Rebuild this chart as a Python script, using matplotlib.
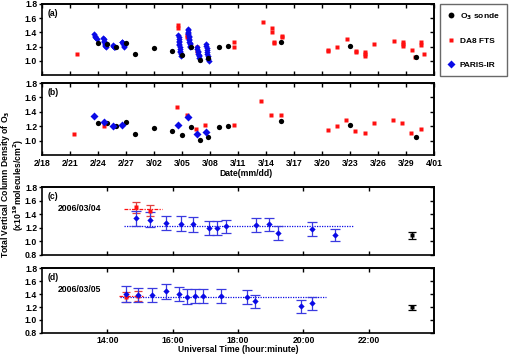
import matplotlib
matplotlib.use("Agg")
import matplotlib.pyplot as plt
from matplotlib.lines import Line2D

plt.rcParams['font.family'] = ['Liberation Sans', 'DejaVu Sans']
plt.rcParams['font.weight'] = 'bold'
plt.rcParams['axes.labelweight'] = 'bold'
plt.rcParams['font.size'] = 6.2
plt.rcParams['mathtext.default'] = 'bf'

# ---- panel (a): individual measurements (days since 2/18 00:00) ----
a_sonde_day = [5.96, 7.0, 7.93, 8.97, 9.97, 11.97, 13.97, 14.97, 15.97, 16.97,
               17.82, 18.97, 19.96, 25.57, 33.0, 40.05]
a_sonde_val = [1.25, 1.23, 1.19, 1.25, 1.09, 1.18, 1.14, 1.08, 1.19, 1.01,
               1.04, 1.19, 1.21, 1.27, 1.21, 1.05]

a_fts_day = [3.7, 14.6, 14.6, 15.55, 15.55, 16.6, 16.6, 20.6, 20.6, 23.7, 24.6,
             24.6, 24.8, 24.8, 25.7, 25.7, 30.6, 30.6, 31.6, 32.65, 33.6, 33.6,
             34.6, 34.6, 34.6, 35.6, 37.65, 38.65, 38.65, 38.65, 39.6, 39.9,
             40.6, 40.6, 40.9]
a_fts_val = [1.09, 1.50, 1.46, 1.36, 1.34, 1.19, 1.14, 1.27, 1.19, 1.54, 1.46,
             1.40, 1.26, 1.25, 1.35, 1.33, 1.15, 1.14, 1.19, 1.30, 1.14, 1.12,
             1.12, 1.09, 1.07, 1.24, 1.28, 1.27, 1.24, 1.21, 1.15, 1.05,
             1.26, 1.22, 1.09]

a_paris_day = [5.60, 5.66, 5.72, 5.78, 5.84,
               6.55, 6.59, 6.63, 6.67, 6.71, 6.75, 6.79, 6.83,
               7.57, 7.63, 7.69, 7.75, 7.81,
               8.55, 8.60, 8.65, 8.70, 8.75, 8.80,
               14.60, 14.62, 14.64, 14.66, 14.68, 14.70, 14.72, 14.74, 14.76,
               14.78, 14.80, 14.83, 14.86,
               15.60, 15.62, 15.64, 15.66, 15.68, 15.70, 15.72, 15.74, 15.76,
               15.78, 15.80, 15.82, 15.85, 15.88,
               16.60, 16.64, 16.67, 16.70, 16.73, 16.76, 16.80, 16.84,
               17.55, 17.59, 17.62, 17.65, 17.68, 17.71, 17.75, 17.80, 17.85]
a_paris_val = [1.37, 1.35, 1.33, 1.32, 1.31,
               1.32, 1.30, 1.28, 1.26, 1.24, 1.22, 1.21, 1.19,
               1.22, 1.21, 1.20, 1.19, 1.20,
               1.26, 1.27, 1.25, 1.23, 1.21, 1.20,
               1.36, 1.33, 1.30, 1.28, 1.26, 1.24, 1.22, 1.19, 1.17,
               1.14, 1.12, 1.09, 1.07,
               1.45, 1.43, 1.41, 1.39, 1.37, 1.35, 1.33, 1.31, 1.29,
               1.27, 1.25, 1.23, 1.21, 1.19,
               1.19, 1.16, 1.14, 1.12, 1.10, 1.08, 1.06, 1.04,
               1.24, 1.21, 1.18, 1.15, 1.12, 1.09, 1.06, 1.03, 1.00]

# ---- panel (b): daily means ----
b_sonde_day = a_sonde_day
b_sonde_val = [1.25, 1.24, 1.20, 1.26, 1.10, 1.17, 1.14, 1.08, 1.19, 1.01,
               1.05, 1.19, 1.21, 1.28, 1.22, 1.05]
b_fts_day = [3.45, 6.6, 14.5, 15.5, 16.5, 17.5, 20.6, 23.5, 24.5, 25.55, 30.6,
             31.6, 32.6, 33.55, 34.55, 35.6, 37.6, 38.6, 39.55, 40.6]
b_fts_val = [1.10, 1.20, 1.47, 1.35, 1.16, 1.22, 1.22, 1.55, 1.35, 1.35, 1.15,
             1.20, 1.29, 1.13, 1.11, 1.24, 1.29, 1.25, 1.11, 1.16]
b_paris_day = [5.6, 6.6, 7.6, 8.6, 14.6, 15.6, 16.6, 17.6]
b_paris_val = [1.34, 1.26, 1.21, 1.22, 1.22, 1.33, 1.10, 1.12]

date_ticks = list(range(0, 43, 3))
date_labels = ['2/18', '2/21', '2/24', '2/27', '3/02', '3/05', '3/08', '3/11',
               '3/14', '3/17', '3/20', '3/23', '3/26', '3/29', '4/01']

# ---- panel (c): 2006/03/04, UT hours ----
c_paris_t = [14.88, 15.31, 15.80, 16.25, 16.62, 17.10, 17.36, 17.62, 18.56,
             18.94, 19.23, 20.25, 20.97]
c_paris_v = [1.34, 1.32, 1.27, 1.26, 1.25, 1.20, 1.20, 1.22, 1.24, 1.25,
             1.12, 1.18, 1.09]
c_paris_e = [0.11, 0.11, 0.11, 0.11, 0.11, 0.10, 0.10, 0.10, 0.10, 0.10,
             0.10, 0.10, 0.09]
c_fts_t = [14.88, 15.31]
c_fts_v = [1.50, 1.45]
c_fts_e = [0.08, 0.08]
c_sonde_t = [23.32]
c_sonde_v = [1.09]
c_sonde_e = [0.05]
c_paris_mean, c_paris_span = 1.23, [14.5, 21.5]
c_fts_mean, c_fts_span = 1.475, [14.5, 15.67]

# ---- panel (d): 2006/03/05 ----
d_paris_t = [14.58, 14.95, 15.37, 15.79, 16.20, 16.45, 16.69, 16.93, 17.48,
             18.28, 18.53, 19.91, 20.27]
d_paris_v = [1.40, 1.39, 1.39, 1.44, 1.40, 1.36, 1.37, 1.37, 1.37, 1.35,
             1.29, 1.21, 1.26]
d_paris_e = [0.12, 0.11, 0.11, 0.11, 0.11, 0.11, 0.11, 0.11, 0.11, 0.11,
             0.10, 0.10, 0.10]
d_fts_t = [14.58, 14.95]
d_fts_v = [1.35, 1.37]
d_fts_e = [0.08, 0.08]
d_sonde_t = [23.32]
d_sonde_v = [1.195]
d_sonde_e = [0.04]
d_paris_mean, d_paris_span = 1.35, [14.39, 20.68]
d_fts_mean, d_fts_span = 1.365, [14.34, 15.1]

hour_ticks = [14, 16, 18, 20, 22]
hour_labels = ['14:00', '16:00', '18:00', '20:00', '22:00']

BLUE = '#0a0ae6'
EBLUE = '#3a3ae0'
RED = '#ff1010'


def style_axes(ax, xticks, yticks):
    for s in ax.spines.values():
        s.set_linewidth(1.2)
    ax.set_yticks(yticks)
    ax.set_yticklabels([f'{v:.1f}' for v in yticks])
    ax.set_xticks(xticks)
    ax.tick_params(axis='y', direction='out', length=2.5, width=1, pad=1)
    ax.tick_params(axis='x', direction='in', length=3, width=1, pad=2.5)
    top = ax.secondary_xaxis('top')
    top.set_xticks(xticks)
    top.tick_params(direction='in', length=3, width=1, labeltop=False)
    top.spines['top'].set_linewidth(1.2)
    right = ax.secondary_yaxis('right')
    right.set_yticks(yticks)
    right.tick_params(direction='in', length=3, width=1, labelright=False)
    right.spines['right'].set_linewidth(1.2)


fig = plt.figure(figsize=(5.10, 3.55), dpi=100)
L, W = 0.0824, 0.769
ax_a = fig.add_axes([L, 0.789, W, 0.2])
ax_b = fig.add_axes([L, 0.563, W, 0.203])
ax_c = fig.add_axes([L, 0.282, W, 0.191])
ax_d = fig.add_axes([L, 0.062, W, 0.183])

# panel a
ax_a.plot(a_fts_day, a_fts_val, 's', color=RED, ms=3, mec='none')
ax_a.plot(a_paris_day, a_paris_val, 'D', color=BLUE, ms=3.2, mec='none')
ax_a.plot(a_sonde_day, a_sonde_val, 'o', color='black', ms=3.8, mec='none')
ax_a.set_xlim(0, 42)
ax_a.set_ylim(0.8, 1.8)
style_axes(ax_a, date_ticks, [1.0, 1.2, 1.4, 1.6, 1.8])
ax_a.set_xticklabels([])
ax_a.text(0.015, 0.93, '(a)', transform=ax_a.transAxes, va='top')

# panel b
ax_b.plot(b_sonde_day, b_sonde_val, 'o', color='black', ms=3.8, mec='none')
ax_b.plot(b_fts_day, b_fts_val, 's', color=RED, ms=3, mec='none')
ax_b.plot(b_paris_day, b_paris_val, 'D', color=BLUE, ms=3.6, mec='none')
ax_b.set_xlim(0, 42)
ax_b.set_ylim(0.8, 1.8)
style_axes(ax_b, date_ticks, [1.0, 1.2, 1.4, 1.6, 1.8])
ax_b.set_xticklabels(date_labels)
ax_b.set_xlabel('Date(mm/dd)')
ax_b.xaxis.set_label_coords(0.52, -0.19)
ax_b.text(0.015, 0.93, '(b)', transform=ax_b.transAxes, va='top')


def day_panel(ax, pt, pv, pe, ft, fv, fe, st, sv, se, pm, pspan, fm, fspan):
    ax.plot(pspan, [pm, pm], color=BLUE, lw=0.9, ls=(0, (1, 1)))
    ax.plot(fspan, [fm, fm], color=RED, lw=0.9, ls=(0, (3, 1, 1, 1)))
    ax.errorbar(ft, fv, yerr=fe, fmt='s', color=RED, ecolor='#e04040', ms=3,
                mec='none', capsize=3, elinewidth=0.9, capthick=0.9)
    ax.errorbar(pt, pv, yerr=pe, fmt='D', color=BLUE, ecolor=EBLUE, ms=3.2,
                mec='none', capsize=3.5, elinewidth=0.9, capthick=0.9)
    ax.errorbar(st, sv, yerr=se, fmt='s', color='black', ms=3, mec='none',
                capsize=3, elinewidth=0.9, capthick=0.9)
    ax.set_xlim(12, 24)
    ax.set_ylim(0.8, 1.8)
    style_axes(ax, hour_ticks, [0.8, 1.0, 1.2, 1.4, 1.6, 1.8])


day_panel(ax_c, c_paris_t, c_paris_v, c_paris_e, c_fts_t, c_fts_v, c_fts_e,
          c_sonde_t, c_sonde_v, c_sonde_e, c_paris_mean, c_paris_span,
          c_fts_mean, c_fts_span)
ax_c.set_xticklabels([])
ax_c.text(0.015, 0.93, '(c)', transform=ax_c.transAxes, va='top')
ax_c.text(0.04, 0.69, '2006/03/04', transform=ax_c.transAxes, va='center')

day_panel(ax_d, d_paris_t, d_paris_v, d_paris_e, d_fts_t, d_fts_v, d_fts_e,
          d_sonde_t, d_sonde_v, d_sonde_e, d_paris_mean, d_paris_span,
          d_fts_mean, d_fts_span)
ax_d.set_xticklabels(hour_labels)
ax_d.set_xlabel('Universal Time (hour:minute)')
ax_d.xaxis.set_label_coords(0.5, -0.19)
ax_d.text(0.015, 0.93, '(d)', transform=ax_d.transAxes, va='top')
ax_d.text(0.04, 0.67, '2006/03/05', transform=ax_d.transAxes, va='center')

# y label shared
fig.text(0.011, 0.48, 'Total Vertical Column Density of O$_3$', rotation=90,
         ha='center', va='center')
fig.text(0.036, 0.48, '(x10$^{19}$molecules/cm$^2$)', rotation=90,
         ha='center', va='center')

handles = [Line2D([], [], ls='none', marker='o', color='black', ms=4.2, mec='none'),
           Line2D([], [], ls='none', marker='s', color=RED, ms=3.3, mec='none'),
           Line2D([], [], ls='none', marker='D', color=BLUE, ms=3.8, mec='none')]
leg = fig.legend(handles, ['O$_3$ sonde', 'DA8 FTS', 'PARIS-IR'],
                 loc='upper left', bbox_to_anchor=(0.862, 0.99),
                 frameon=True, fancybox=False, edgecolor='#444444',
                 labelspacing=1.9, handlelength=1.0, handletextpad=0.5,
                 borderpad=0.9, borderaxespad=0, fontsize=6)
leg.get_frame().set_linewidth(1.0)

fig.savefig('out.png', dpi=100)
